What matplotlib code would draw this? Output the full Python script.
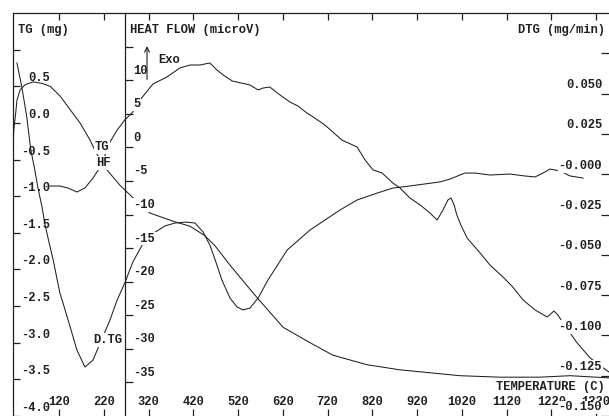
import matplotlib.pyplot as plt
import matplotlib.transforms as mtransforms

# TG curve (mg) vs temperature (C)
tg_temp = [17, 19, 24, 26, 33, 44, 62, 82, 100, 122, 145, 167, 189, 203, 216, 227,
           256, 285, 323, 379, 413, 446, 469, 502, 529, 562, 621, 681, 732, 808,
           882, 949, 1016, 1105, 1195, 1262, 1349]
tg_mg = [-0.37, -0.10, 0.18, 0.31, 0.45, 0.52, 0.56, 0.54, 0.50, 0.37, 0.18, 0.00,
         -0.23, -0.41, -0.53, -0.64, -0.85, -1.02, -1.23, -1.35, -1.41, -1.54, -1.68,
         -1.94, -2.14, -2.38, -2.79, -3.00, -3.17, -3.30, -3.37, -3.41, -3.45, -3.47,
         -3.47, -3.45, -3.48]

# heat flow (microV)
hf_temp = [100, 122, 140, 160, 178, 196, 212, 223, 234, 250, 267, 285, 301, 330, 361,
           390, 413, 435, 457, 473, 487, 507, 547, 565, 576, 591, 614, 636, 654, 674,
           688, 714, 732, 752, 786, 804, 822, 842, 866, 882, 904, 927, 949, 965, 978,
           989, 996, 1003, 1009, 1018, 1032, 1061, 1083, 1112, 1134, 1157, 1184, 1211,
           1226, 1235, 1246, 1262, 1278, 1307, 1333, 1349]
hf_uv = [-5.76, -5.76, -6.05, -6.65, -6.05, -4.57, -2.93, -1.14, 0.79, 2.58, 4.07, 5.26,
         7.05, 9.43, 10.47, 11.81, 12.26, 12.26, 12.56, 11.51, 10.77, 9.88, 9.28, 8.54,
         8.83, 8.98, 7.79, 6.75, 6.15, 5.11, 4.52, 3.33, 2.28, 1.09, 0.05, -1.89, -3.37,
         -3.82, -5.31, -6.05, -7.54, -8.58, -9.78, -10.82, -9.33, -7.84, -7.54, -8.58,
         -10.07, -11.56, -13.50, -15.73, -17.52, -19.30, -20.79, -22.73, -24.22, -25.26,
         -24.37, -24.96, -26.15, -27.64, -29.13, -31.36, -32.70, -33.45]

# DTG (mg/min)
dtg_temp = [26, 37, 48, 57, 66, 73, 82, 89, 98, 107, 116, 122, 129, 145, 160, 178, 196,
            212, 234, 250, 267, 285, 312, 335, 357, 379, 402, 424, 442, 457, 469, 484,
            502, 518, 531, 547, 565, 587, 630, 681, 748, 786, 831, 866, 904, 971, 994,
            1016, 1027, 1050, 1083, 1128, 1161, 1184, 1206, 1217, 1240, 1262, 1291]
dtg_val = [0.069, 0.054, 0.0355, 0.015, 0.0026, -0.0086, -0.0203, -0.0315, -0.0427,
           -0.0532, -0.0656, -0.0737, -0.080, -0.0948, -0.1091, -0.1196, -0.1153,
           -0.1047, -0.0904, -0.0780, -0.0675, -0.0545, -0.0408, -0.0359, -0.0321,
           -0.0303, -0.0297, -0.0303, -0.0359, -0.0439, -0.0532, -0.0656, -0.0768,
           -0.0824, -0.0842, -0.0830, -0.0768, -0.0656, -0.0470, -0.0346, -0.0222,
           -0.0160, -0.0117, -0.0086, -0.0073, -0.0048, -0.0030, -0.0005, 0.0007,
           0.0007, -0.0005, 0.0001, -0.0011, -0.0017, 0.0014, 0.0032, 0.0020, -0.0011,
           -0.0024]

temp_ticks = [120, 220, 320, 420, 520, 620, 720, 820, 920, 1020, 1120, 1220, 1320]
tg_ticks = [0.5, 0.0, -0.5, -1.0, -1.5, -2.0, -2.5, -3.0, -3.5, -4.0]
hf_ticks = [10, 5, 0, -5, -10, -15, -20, -25, -30, -35]
dtg_ticks = [0.050, 0.025, 0.0, -0.025, -0.050, -0.075, -0.100, -0.125, -0.150]
dtg_labels = ['0.050', '0.025', '-0.000', '-0.025', '-0.050', '-0.075', '-0.100',
              '-0.125', '-0.150']

plt.rcParams['font.family'] = ['Liberation Mono', 'DejaVu Sans Mono']
plt.rcParams['font.weight'] = 'bold'
plt.rcParams['font.size'] = 8.7

ink = '#202020'
fig = plt.figure(figsize=(6.09, 4.16), dpi=100)
ax = fig.add_axes([13 / 609, 0, 598 / 609, 403 / 416])
ax.set_xlim(17.2, 1353.5)
ax.set_ylim(-4.0, 1.5)
ax_hf = ax.twinx()
ax_hf.set_ylim(-40, 20)
ax_dtg = ax.twinx()
ax_dtg.set_ylim(-0.15, 0.10)

ax.plot(tg_temp, tg_mg, color=ink, lw=0.75, zorder=2)
ax_hf.plot(hf_temp, hf_uv, color=ink, lw=0.75, zorder=2)
ax_dtg.plot(dtg_temp, dtg_val, color=ink, lw=0.75, zorder=2)

# frame
for a in (ax, ax_hf, ax_dtg):
    for s in a.spines.values():
        s.set_visible(False)
        s.set_color(ink)
        s.set_linewidth(0.9)
ax.spines['left'].set_visible(True)
ax.spines['top'].set_visible(True)
ax_hf.spines['left'].set_visible(True)
ax_hf.spines['left'].set_position(('data', 267))
ax_dtg.spines['right'].set_visible(True)

ax.set_xticks(temp_ticks)
ax.set_yticks(tg_ticks + [1.0])
ax_hf.yaxis.tick_left()
ax_hf.set_yticks(hf_ticks + [15])
ax_dtg.set_yticks(dtg_ticks + [0.075])
ax.tick_params(axis='x', direction='in', length=5, width=0.9, color=ink,
               top=True, bottom=True, labelbottom=False, labeltop=False)
ax.tick_params(axis='y', direction='in', length=5, width=0.9, color=ink,
               left=True, right=False, labelleft=False)
ax_hf.tick_params(axis='y', direction='in', length=6, width=0.9, color=ink,
                  left=True, right=False, labelleft=False, labelright=False)
ax_dtg.tick_params(axis='y', direction='in', length=7, width=0.9, color=ink,
                   left=False, right=True, labelleft=False, labelright=False)


def shifted(trans, dy):
    return mtransforms.offset_copy(trans, fig=fig, x=0, y=dy, units='dots')


white = dict(facecolor='white', edgecolor='none', pad=0.6)
top = ax_dtg

tr_x = shifted(mtransforms.blended_transform_factory(ax.transData, ax.transAxes), 0)
for t in temp_ticks:
    top.text(t, 0.035, str(t), transform=tr_x, ha='center', va='center',
             color=ink, zorder=5, bbox=white)

tr_tg = shifted(mtransforms.blended_transform_factory(ax.transAxes, ax.transData), 8)
for v in tg_ticks:
    top.text(0.0619, v, '%.1f' % v if v != 0 else '0.0', transform=tr_tg, ha='right',
             va='center', color=ink, zorder=5)

tr_hf = shifted(mtransforms.blended_transform_factory(ax.transAxes, ax_hf.transData), 9.5)
for v in hf_ticks:
    top.text(0.2007, v, str(v), transform=tr_hf, ha='left', va='center',
             color=ink, zorder=5, bbox=white)

tr_dtg = shifted(mtransforms.blended_transform_factory(ax.transAxes, ax_dtg.transData), 8.5)
for v, lab in zip(dtg_ticks, dtg_labels):
    top.text(0.985, v, lab, transform=tr_dtg, ha='right', va='center',
             color=ink, zorder=6, bbox=white)

# axis titles
top.text(0.008, 0.958, 'TG (mg)', transform=ax.transAxes, ha='left', va='center',
         color=ink, zorder=5)
top.text(0.196, 0.958, 'HEAT FLOW (microV)', transform=ax.transAxes, ha='left',
         va='center', color=ink, zorder=5)
top.text(0.990, 0.958, 'DTG (mg/min)', transform=ax.transAxes, ha='right',
         va='center', color=ink, zorder=5)
top.text(0.990, 0.072, 'TEMPERATURE (C)', transform=ax.transAxes, ha='right',
         va='center', color=ink, zorder=5)

# Exo arrow
top.annotate('', xy=(0.2241, 0.918), xytext=(0.2241, 0.835), xycoords='axes fraction',
             arrowprops=dict(arrowstyle='->', lw=0.8, color=ink, shrinkA=0, shrinkB=0),
             zorder=7)
top.text(0.2425, 0.883, 'Exo', transform=ax.transAxes, ha='left', va='center',
         color=ink, zorder=5)

# curve labels
top.text(0.149, 0.667, 'TG', transform=ax.transAxes, ha='center', va='center',
         color=ink, zorder=5, bbox=white)
top.text(0.151, 0.628, 'HF', transform=ax.transAxes, ha='center', va='center',
         color=ink, zorder=5, bbox=white)
top.text(0.158, 0.189, 'D.TG', transform=ax.transAxes, ha='center', va='center',
         color=ink, zorder=5, bbox=white)

fig.savefig('out.png', dpi=100)
